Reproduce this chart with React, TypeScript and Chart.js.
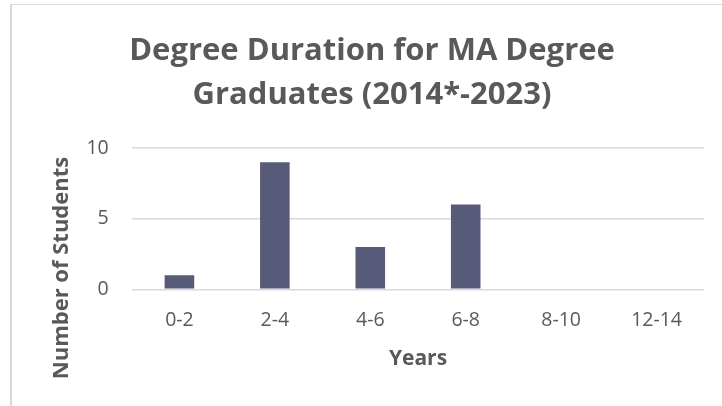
import React, { useEffect, useRef } from "react";
import { Chart, registerables } from "chart.js";

Chart.register(...registerables);

const categories = ["0-2", "2-4", "4-6", "6-8", "8-10", "12-14"];
const students = [1, 9, 3, 6, 0, 0];
const yTicks = [0, 5, 10];
const titleLines = ["Degree Duration for MA Degree", "Graduates (2014*-2023)"];
const yTitle = "Number of Students";
const xTitle = "Years";

const FONT = "'Open Sans', 'DejaVu Sans', sans-serif";
const GRAY = "#595959";

const overlay = {
  id: "overlay",
  beforeDraw(chart: any) {
    const ctx = chart.ctx;
    ctx.save();
    ctx.fillStyle = "#ffffff";
    ctx.fillRect(0, 0, chart.width, chart.height);
    ctx.strokeStyle = "#d9d9d9";
    ctx.lineWidth = 1;
    ctx.beginPath();
    ctx.moveTo(11.5, chart.height + 2);
    ctx.lineTo(11.5, 4.5);
    ctx.lineTo(chart.width + 2, 4.5);
    ctx.stroke();
    ctx.fillStyle = "#d9d9d9";
    ctx.fillRect(10, 4, 2, chart.height);
    ctx.restore();
  },
  afterDraw(chart: any) {
    const ctx = chart.ctx;
    ctx.save();
    ctx.fillStyle = GRAY;
    ctx.textAlign = "center";
    ctx.textBaseline = "alphabetic";
    ctx.font = `bold 31px ${FONT}`;
    ctx.fillText(titleLines[0], 372, 60);
    ctx.fillText(titleLines[1], 372, 104);
    ctx.translate(62, 268);
    ctx.rotate(-Math.PI / 2);
    ctx.textBaseline = "middle";
    ctx.font = `bold 22px ${FONT}`;
    ctx.fillText(yTitle, 0, 0);
    ctx.restore();
  },
};

export default function App() {
  const ref = useRef<HTMLCanvasElement>(null);
  useEffect(() => {
    const chart = new Chart(ref.current!, {
      type: "bar",
      data: {
        labels: categories,
        datasets: [
          {
            data: students,
            backgroundColor: "#575b79",
            categoryPercentage: 1,
            barPercentage: 0.31,
          },
        ],
      },
      options: {
        animation: false,
        responsive: false,
        layout: { padding: { left: 0, right: 17.7, top: 148, bottom: 0 } },
        plugins: { legend: { display: false }, title: { display: false }, tooltip: { enabled: false } },
        scales: {
          x: {
            grid: { display: false, drawTicks: false },
            border: { display: false },
            ticks: { color: GRAY, font: { family: FONT, size: 19.5 }, padding: 19.5 },
            title: {
              display: true,
              text: xTitle,
              color: GRAY,
              font: { family: FONT, size: 21, weight: "bold" },
              padding: { top: 0, bottom: 34 },
            },
            afterFit: (s: any) => {
              s.height = 116.7;
            },
          },
          y: {
            min: 0,
            max: 10,
            afterBuildTicks: (s: any) => {
              s.ticks = yTicks.map((v) => ({ value: v }));
            },
            grid: { color: "#d9d9d9", drawTicks: false, lineWidth: 1.5 },
            border: { display: false },
            ticks: { color: GRAY, font: { family: FONT, size: 19.5 }, padding: 23 },
            afterFit: (s: any) => {
              s.width = 131.7;
            },
          },
        },
      },
      plugins: [overlay],
    });
    return () => chart.destroy();
  }, []);
  return (
    <div style={{ position: "absolute", left: 0, top: 0, width: 722, height: 406 }}>
      <canvas ref={ref} width={722} height={406} style={{ width: 722, height: 406 }} />
    </div>
  );
}
